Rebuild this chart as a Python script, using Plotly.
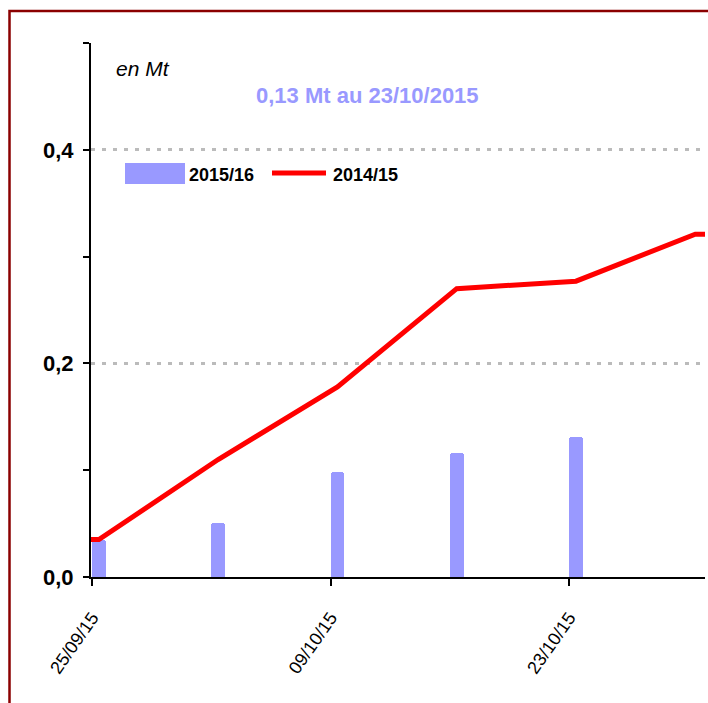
import pandas as pd
import plotly.graph_objects as go

# ---- data ----
bar_dates = ["2015-09-25", "2015-10-02", "2015-10-09", "2015-10-16", "2015-10-23"]
bar_values = [0.035, 0.051, 0.098, 0.116, 0.131]          # 2015/16 (Mt)

line_dates = ["2015-09-25", "2015-10-02", "2015-10-09", "2015-10-16", "2015-10-23", "2015-10-30"]
line_values = [0.035, 0.110, 0.178, 0.270, 0.277, 0.321]  # 2014/15 (Mt)

tick_dates = ["2015-09-25", "2015-10-09", "2015-10-23"]
y_ticks = [0.0, 0.2, 0.4]

series_names = ["2015/16", "2014/15"]
title_text = "0,13 Mt au 23/10/2015"
unit_text = "en Mt"

# ---- layout geometry (screen pixels) ----
W, H = 708, 703
ML, MR, MT, MB = 91, 3, 43, 126
PW, PH = W - ML - MR, H - MT - MB

def px(x):
    return (x - ML) / PW

def py(y):
    return (H - MB - y) / PH

x_start = pd.Timestamp("2015-09-25") - pd.Timedelta(hours=1.5)
x_end = pd.Timestamp("2015-10-30") + pd.Timedelta(hours=23.3)
shift = pd.Timedelta(hours=9.6)

bar_x = pd.to_datetime(bar_dates)
line_x = [x_start] + list(pd.to_datetime(line_dates) + shift) + [x_end + pd.Timedelta(hours=6)]
line_y = [line_values[0]] + line_values + [line_values[-1]]

BAR_COLOR = "#9999FF"
LINE_COLOR = "#FF0000"
FONT = "Liberation Sans, Arial, sans-serif"

fig = go.Figure()
fig.add_trace(go.Bar(
    x=bar_x, y=bar_values, name=series_names[0],
    marker=dict(color=BAR_COLOR, cornerradius=3, line=dict(width=0)),
    width=0.8 * 86400000, offset=0,
    showlegend=False, hoverinfo="x+y",
))
fig.add_trace(go.Scatter(
    x=line_x, y=line_y, name=series_names[1], mode="lines",
    line=dict(color=LINE_COLOR, width=5), cliponaxis=False,
    showlegend=False,
))

fig.update_layout(
    width=W, height=H,
    margin=dict(l=ML, r=MR, t=MT, b=MB, pad=0),
    paper_bgcolor="white", plot_bgcolor="white",
    font=dict(family=FONT, color="black"),
    bargap=0, separators=", ",
)
fig.update_xaxes(
    type="date", range=[x_start, x_end],
    tickvals=pd.to_datetime(tick_dates), tickformat="%d/%m/%y",
    tickangle=-55, tickfont=dict(size=18, family=FONT, color="black"),
    ticks="outside", ticklen=7, tickwidth=1.5, tickcolor="black",
    ticklabelstandoff=14,
    showline=True, linecolor="black", linewidth=2,
    showgrid=False, zeroline=False,
)
fig.update_yaxes(
    range=[0, 0.5], tickvals=y_ticks, tickformat=".1f",
    tickfont=dict(size=22, family=FONT, color="black", weight="bold"),
    ticks="outside", ticklen=6, tickwidth=1.5, tickcolor="black",
    ticklabelstandoff=5,
    minor=dict(dtick=0.1, tick0=0, ticks="outside", ticklen=6, tickwidth=1.5,
               tickcolor="black", showgrid=False),
    showline=True, linecolor="black", linewidth=2,
    showgrid=True, gridcolor="#BBBBBB", gridwidth=2.5, griddash="4px,7px",
    zeroline=False,
)

# legend (manual) and texts
shapes = [
    dict(type="rect", xref="paper", yref="paper",
         x0=px(125), x1=px(185), y0=py(184), y1=py(163),
         fillcolor=BAR_COLOR, line=dict(width=0)),
    dict(type="line", xref="paper", yref="paper",
         x0=px(272), x1=px(326), y0=py(173), y1=py(173),
         line=dict(color=LINE_COLOR, width=5)),
    # outer border (right and bottom edges lie outside the page)
    dict(type="rect", xref="paper", yref="paper",
         x0=px(9.5), x1=px(760), y0=py(760), y1=py(11),
         line=dict(color="#8B0000", width=2.5), fillcolor="rgba(0,0,0,0)", layer="above"),
]
annotations = [
    dict(text=unit_text, xref="paper", yref="paper", x=px(114), y=py(68),
         xanchor="left", yanchor="middle", showarrow=False,
         font=dict(size=21, family=FONT, color="black", style="italic")),
    dict(text="<b>%s</b>" % title_text, xref="paper", yref="paper", x=px(367), y=py(95),
         xanchor="center", yanchor="middle", showarrow=False,
         font=dict(size=22, family=FONT, color=BAR_COLOR)),
    dict(text="<b>%s</b>" % series_names[0], xref="paper", yref="paper", x=px(187), y=py(175),
         xanchor="left", yanchor="middle", showarrow=False,
         font=dict(size=18, family=FONT, color="black")),
    dict(text="<b>%s</b>" % series_names[1], xref="paper", yref="paper", x=px(331), y=py(175),
         xanchor="left", yanchor="middle", showarrow=False,
         font=dict(size=18, family=FONT, color="black")),
]
fig.update_layout(shapes=shapes, annotations=annotations)

fig.write_html(
    "out.html",
    config={"displayModeBar": False},
    post_script="document.body.style.margin='0';document.body.style.overflow='hidden';",
)
